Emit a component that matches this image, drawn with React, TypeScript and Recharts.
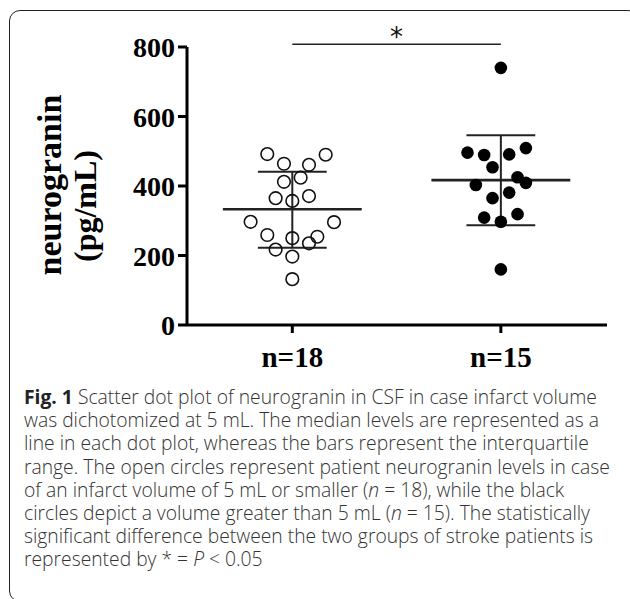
import React from 'react';
import { ScatterChart, Scatter, XAxis, YAxis, ReferenceLine, ReferenceDot } from 'recharts';

// Categories (x positions 1 and 2) and their tick labels
const groupPositions = [1, 2];
const groupLabels = ['n=18', 'n=15'];
const yTicks = [0, 200, 400, 600, 800];

// Infarct volume <= 5 mL (open circles)
const smallX = [0.88, 1.16, 0.96, 1.08, 0.96, 1.04, 0.92, 1.0, 1.08, 0.8, 1.2, 0.88, 1.0, 1.12, 0.92, 1.08, 1.0, 1.0];
const smallY = [492, 490, 464, 461, 412, 424, 365, 357, 371, 297, 296, 259, 250, 254, 217, 235, 197, 132];

// Infarct volume > 5 mL (black circles)
const largeX = [2.0, 1.84, 1.92, 2.04, 2.12, 1.96, 2.08, 1.88, 2.12, 2.04, 1.96, 1.92, 2.08, 2.0, 2.0];
const largeY = [740, 496, 489, 491, 509, 454, 425, 403, 409, 381, 365, 309, 319, 297, 160];

// Median and interquartile range per group
const medians = [333, 417];
const q1s = [222, 287];
const q3s = [441, 546];

// Significance bar
const sigFrom = 1;
const sigTo = 2;
const sigLevel = 808;
const sigStarLevel = 830;
const sigText = '*';

const small = smallX.map((x, i) => ({ x, y: smallY[i] }));
const large = largeX.map((x, i) => ({ x, y: largeY[i] }));

const MEDIAN_HALF = 0.333;
const CAP_HALF = 0.165;

const captionLines: React.ReactNode[] = [
  <><b style={{ fontWeight: 700, color: '#222' }}>Fig. 1</b> Scatter dot plot of neurogranin in CSF in case infarct volume</>,
  <>was dichotomized at 5 mL. The median levels are represented as a</>,
  <>line in each dot plot, whereas the bars represent the interquartile</>,
  <>range. The open circles represent patient neurogranin levels in case</>,
  <>of an infarct volume of 5 mL or smaller (<i>n</i> = 18), while the black</>,
  <>circles depict a volume greater than 5 mL (<i>n</i> = 15). The statistically</>,
  <>significant difference between the two groups of stroke patients is</>,
  <>represented by * = <i>P</i> &lt; 0.05</>,
];

const SERIF = '"Liberation Serif", "Times New Roman", serif';

const YTick = (props: any) => {
  const { x, y, payload } = props;
  return (
    <text x={x} y={y} dy="0.36em" textAnchor="end" fontFamily={SERIF} fontWeight={700} fontSize={28} fill="#000">
      {payload.value}
    </text>
  );
};

const XTick = (props: any) => {
  const { x, y, payload } = props;
  const idx = groupPositions.indexOf(payload.value);
  return (
    <text x={x} y={y} dy="0.71em" textAnchor="middle" fontFamily={SERIF} fontWeight={700} fontSize={29} fill="#000">
      {idx >= 0 ? groupLabels[idx] : ''}
    </text>
  );
};

const openCircle = (p: any) => (
  <circle cx={p.cx} cy={p.cy} r={6.3} fill="none" stroke="#111" strokeWidth={1.6} />
);
const filledCircle = (p: any) => (
  <circle cx={p.cx} cy={p.cy} r={6.3} fill="#000" stroke="none" />
);

const YLabel = () => (
  <text transform="rotate(-90)" fontFamily={SERIF} fontWeight={700} fill="#000" textAnchor="middle">
    <tspan x={-185} y={61} fontSize={34}>neurogranin</tspan>
    <tspan x={-206} y={96} fontSize={32}>(pg/mL)</tspan>
  </text>
);

export default function App() {
  return (
    <div style={{ position: 'absolute', left: 0, top: 0, width: 630, height: 599, overflow: 'hidden', background: '#fff' }}>
      <div
        style={{
          position: 'absolute',
          left: 9,
          top: 10,
          width: 630,
          height: 592,
          border: '1.5px solid #222',
          borderRadius: 11,
          boxSizing: 'border-box',
        }}
      />
      <div style={{ position: 'absolute', left: 0, top: 0 }}>
        <ScatterChart width={630} height={380} margin={{ top: 47, right: 23, bottom: 0, left: 0 }}>
          <XAxis
            type="number"
            dataKey="x"
            domain={[0.495, 2.509]}
            ticks={groupPositions}
            allowDataOverflow
            height={55}
            tick={<XTick />}
            tickSize={8}
            tickMargin={13}
            axisLine={{ stroke: '#000', strokeWidth: 3 }}
            tickLine={{ stroke: '#000', strokeWidth: 3 }}
          />
          <YAxis
            type="number"
            dataKey="y"
            domain={[0, 800]}
            ticks={yTicks}
            allowDataOverflow
            width={187}
            tick={<YTick />}
            tickSize={9}
            tickMargin={3}
            axisLine={{ stroke: '#000', strokeWidth: 3 }}
            tickLine={{ stroke: '#000', strokeWidth: 3 }}
            label={{ content: () => <YLabel /> }}
          />
          {groupPositions.map((gx, i) => (
            <ReferenceLine
              key={'med' + i}
              segment={[{ x: gx - MEDIAN_HALF, y: medians[i] }, { x: gx + MEDIAN_HALF, y: medians[i] }]}
              stroke="#222"
              strokeWidth={2.6}
              ifOverflow="visible"
            />
          ))}
          {groupPositions.map((gx, i) => (
            <ReferenceLine
              key={'q1' + i}
              segment={[{ x: gx - CAP_HALF, y: q1s[i] }, { x: gx + CAP_HALF, y: q1s[i] }]}
              stroke="#222"
              strokeWidth={2}
              ifOverflow="visible"
            />
          ))}
          {groupPositions.map((gx, i) => (
            <ReferenceLine
              key={'q3' + i}
              segment={[{ x: gx - CAP_HALF, y: q3s[i] }, { x: gx + CAP_HALF, y: q3s[i] }]}
              stroke="#222"
              strokeWidth={2}
              ifOverflow="visible"
            />
          ))}
          {groupPositions.map((gx, i) => (
            <ReferenceLine
              key={'v' + i}
              segment={[{ x: gx, y: q1s[i] }, { x: gx, y: q3s[i] }]}
              stroke="#222"
              strokeWidth={2}
              ifOverflow="visible"
            />
          ))}
          <ReferenceLine
            segment={[{ x: sigFrom, y: sigLevel }, { x: sigTo, y: sigLevel }]}
            stroke="#222"
            strokeWidth={1.6}
            ifOverflow="visible"
          />
          <ReferenceDot
            x={(sigFrom + sigTo) / 2}
            y={sigStarLevel}
            r={1}
            fill="none"
            stroke="none"
            ifOverflow="visible"
            label={{ value: sigText, position: 'center', fontSize: 26, fontFamily: '"DejaVu Sans", sans-serif', fill: '#111' }}
          />
          <Scatter data={small} shape={openCircle} isAnimationActive={false} />
          <Scatter data={large} shape={filledCircle} isAnimationActive={false} />
        </ScatterChart>
      </div>
      <div
        style={{
          position: 'absolute',
          left: 24,
          top: 385,
          fontFamily: '"Open Sans", sans-serif',
          fontWeight: 300,
          fontSize: 19.3,
          lineHeight: '23.2px',
          color: '#333',
        }}
      >
        {captionLines.map((l, i) => (
          <div key={i} style={{ whiteSpace: 'nowrap', height: 23.2 }}>{l}</div>
        ))}
      </div>
    </div>
  );
}
